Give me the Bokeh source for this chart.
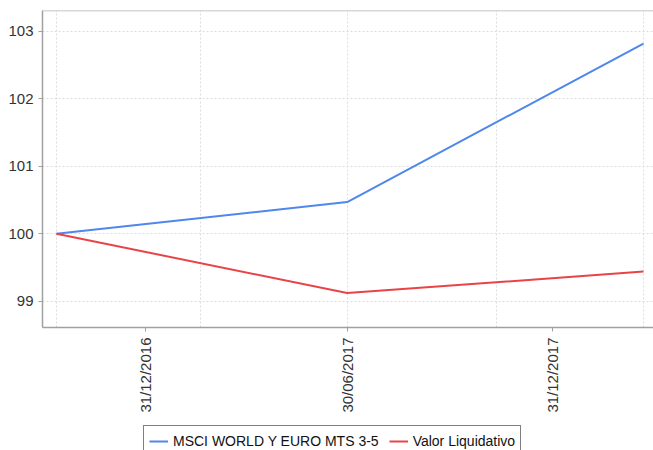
import math
import pandas as pd
from bokeh.plotting import figure
from bokeh.layouts import column
from bokeh.models import (ColumnDataSource, FixedTicker, DatetimeTickFormatter,
                          Legend, LegendItem, Range1d, Span)
from bokeh.embed import file_html
from bokeh.resources import INLINE

# ---- data ----
dates = ["2016-10-12", "2017-06-30", "2018-03-23"]
msci = [100.0, 100.47, 102.82]
valor = [100.0, 99.12, 99.44]
tick_dates = ["2016-12-31", "2017-06-30", "2017-12-31"]
grid_dates = ["2016-10-12", "2017-02-18", "2017-06-30", "2017-11-11", "2018-03-23"]
y_ticks = [99, 100, 101, 102, 103]
series_names = ["MSCI WORLD Y EURO MTS 3-5", "Valor Liquidativo"]
colors = ["#4f87ec", "#e84448"]

def ms(d):
    return pd.Timestamp(d).value / 1e6

x = [ms(d) for d in dates]
src = ColumnDataSource(dict(x=x, msci=msci, valor=valor))

p = figure(width=653, height=422, x_axis_type="datetime",
           output_backend="svg", toolbar_location=None,
           min_border_left=42, min_border_right=0,
           min_border_top=10, min_border_bottom=95)
p.x_range = Range1d(ms("2016-09-29") + 12 * 3600e3, ms("2018-04-01"))
p.y_range = Range1d(98.61, 103.31)
p.outline_line_color = None
p.background_fill_color = "white"
p.border_fill_color = "white"

p.line("x", "msci", source=src, line_color=colors[0], line_width=2)
p.line("x", "valor", source=src, line_color=colors[1], line_width=2)

# top border
p.add_layout(Span(location=103.31, dimension="width", line_color="#b0b0b0", line_width=1.5))

# axes
fmt = "%d/%m/%Y"
xa = p.xaxis[0]
xa.ticker = FixedTicker(ticks=[ms(d) for d in tick_dates])
xa.formatter = DatetimeTickFormatter(days=fmt, months=fmt, years=fmt, hours=fmt,
                                     minutes=fmt, seconds=fmt, milliseconds=fmt,
                                     microseconds=fmt, minsec=fmt, hourmin=fmt)
xa.major_label_orientation = math.pi / 2
xa.major_label_text_font = "Liberation Sans"
xa.major_label_text_font_size = "15px"
xa.major_label_text_color = "#333333"
xa.major_label_standoff = 6
xa.axis_line_color = "#a0a0a0"
xa.axis_line_width = 1.5
xa.major_tick_line_color = "#a0a0a0"
xa.major_tick_out = 4
xa.major_tick_in = 0
xa.minor_tick_line_color = None

ya = p.yaxis[0]
ya.ticker = FixedTicker(ticks=y_ticks)
ya.major_label_text_font = "Liberation Sans"
ya.major_label_text_font_size = "15px"
ya.major_label_text_color = "#333333"
ya.major_label_standoff = 5
ya.axis_line_color = "#a0a0a0"
ya.axis_line_width = 1.5
ya.major_tick_line_color = "#a0a0a0"
ya.major_tick_out = 4
ya.major_tick_in = 0
ya.minor_tick_line_color = None

# grids
p.xgrid.ticker = FixedTicker(ticks=[ms(d) for d in grid_dates])
p.xgrid.grid_line_color = "#dcdcdc"
p.xgrid.grid_line_dash = "2 2"
p.ygrid.grid_line_color = "#dcdcdc"
p.ygrid.grid_line_dash = "2 2"

# legend strip below (its series lie outside this strip's ranges; only the legend shows)
lg = figure(width=653, height=28, output_backend="svg", toolbar_location=None,
            min_border=0, x_range=Range1d(0, 1), y_range=Range1d(0, 1))
lg.axis.visible = False
lg.grid.visible = False
lg.outline_line_color = None
lg.background_fill_color = "white"
lg.border_fill_color = "white"
r1 = lg.line(x=x, y=msci, line_color=colors[0], line_width=2)
r2 = lg.line(x=x, y=valor, line_color=colors[1], line_width=2)

legend = Legend(items=[LegendItem(label=series_names[0], renderers=[r1]),
                       LegendItem(label=series_names[1], renderers=[r2])],
                orientation="horizontal", location=(101, -7),
                padding=5, margin=0, spacing=10, label_standoff=5,
                glyph_width=19, glyph_height=20, label_height=20,
                label_text_font="Liberation Sans", label_text_font_size="14px",
                label_text_color="#111111",
                border_line_color="black", border_line_width=1.5,
                background_fill_color="white", background_fill_alpha=1)
lg.add_layout(legend, "center")

open("out.html", "w").write(file_html(column(p, lg, spacing=0), INLINE))
